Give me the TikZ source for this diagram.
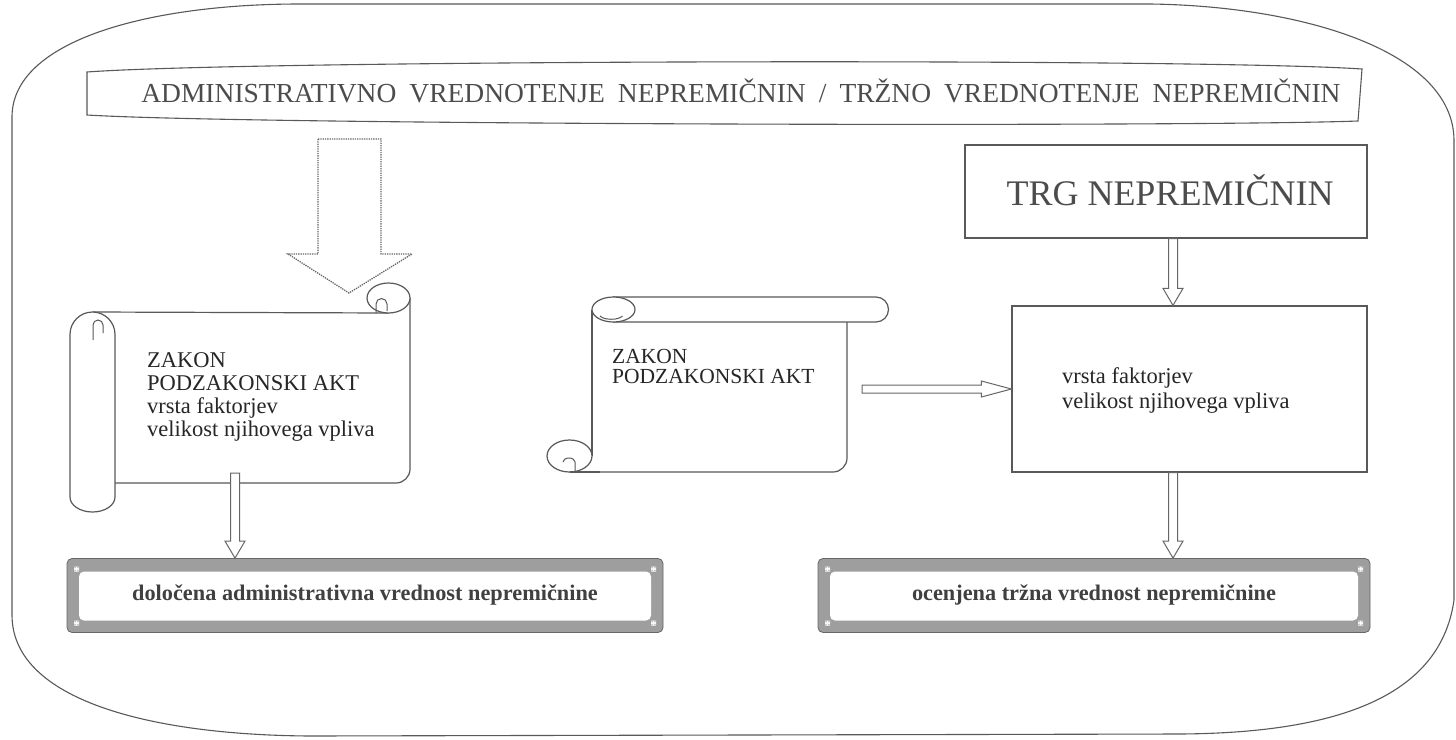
\documentclass[tikz,border=0pt]{standalone}
\usepackage{fontspec}
\setmainfont{Liberation Serif}
\usetikzlibrary{calc}
\tikzset{
  outline/.style={draw=black!65, line width=1.1pt},
  scrollline/.style={draw=black!65, line width=1.2pt, fill=white},
  sline/.style={draw=black!65, line width=1.2pt},
  ghost/.style={draw=none, inner sep=0pt, outer sep=0pt},
  plainbox/.style={draw=black!65, line width=1.2pt, fill=white, inner sep=0pt},
  framebox/.style={draw=black!60, line width=0.8pt, fill=black!38, rounded corners=5pt, inner sep=0pt,
    minimum height=74pt,
    path picture={
      \fill[white] ([shift={(12pt,-13pt)}]path picture bounding box.north west) rectangle ([shift={(-12pt,12pt)}]path picture bounding box.south east);
      \fill[white] ([shift={(7pt,-8pt)}]path picture bounding box.north west) rectangle +(5pt,-5pt);
      \fill[white] ([shift={(-7pt,-8pt)}]path picture bounding box.north east) rectangle +(-5pt,-5pt);
      \fill[white] ([shift={(7pt,7pt)}]path picture bounding box.south west) rectangle +(5pt,5pt);
      \fill[white] ([shift={(-7pt,7pt)}]path picture bounding box.south east) rectangle +(-5pt,5pt);
    }},
  dblarrow/.style={draw=black!60, line width=1pt, fill=white, line join=miter},
  hollowbig/.style={draw=black!60, line width=1.3pt, densely dotted, fill=white},
  bodytext/.style={inner sep=0pt, align=left, text=black!85},
  hatchtext/.style={inner sep=0pt, text=black!70},
  resulttext/.style={font=\bfseries\fontsize{22.3}{24}\selectfont, text=black!75},
}
\newcommand{\downarr}[2]{\draw[dblarrow] let \p1=(#1), \p2=(#2) in
  (\x1-4.5pt,\y1) -- (\x1-4.5pt,\y2+17pt) -- (\x1-10pt,\y2+17pt) -- (\x1,\y2) --
  (\x1+10pt,\y2+17pt) -- (\x1+4.5pt,\y2+17pt) -- (\x1+4.5pt,\y1) -- cycle;}
\newcommand{\rightarr}[2]{\draw[dblarrow] let \p1=(#1), \p2=(#2) in
  (\x1,\y2+4pt) -- (\x2-30pt,\y2+4pt) -- (\x2-30pt,\y2+8pt) -- (\x2,\y2) --
  (\x2-30pt,\y2-8pt) -- (\x2-30pt,\y2-4pt) -- (\x1,\y2-4pt) -- cycle;}
\begin{document}
\begin{tikzpicture}[x=1pt,y=-1pt]
\useasboundingbox[fill=white] (0,0) rectangle (1456,739);

% outer frame
\draw[outline] (12,117) .. controls (12,40) and (150,4) .. (300,4)
  -- (1150,4) .. controls (1300,6) and (1453,50) .. (1454,140)
  -- (1454,600) .. controls (1440,700) and (1330,733) .. (1180,734)
  -- (310,736) .. controls (150,735) and (12,700) .. (12,615) -- cycle;

% banner
\draw[outline] (87,72) .. controls (250,60) and (1200,58) .. (1362,69)
  -- (1358,121) .. controls (1200,127) and (250,125) .. (87,115) -- cycle;
\node[hatchtext, anchor=base, font=\fontsize{27.5}{30}\selectfont] (banner) at (741,102)
  {ADMINISTRATIVNO\hspace{13pt}VREDNOTENJE\hspace{13pt}NEPREMIČNIN\hspace{13pt}/\hspace{13pt}TRŽNO\hspace{13pt}VREDNOTENJE\hspace{13pt}NEPREMIČNIN};

% big hollow arrow
\draw[hollowbig] (318,139) -- (381,139) -- (381,254) -- (412,254) -- (349,293)
  -- (288,254) -- (318,254) -- cycle;

% left scroll
\node[ghost, minimum width=295pt, minimum height=171pt] (lscroll) at (262.5,397.5) {};
\fill[white] (115,312) rectangle (410,483);
\draw[sline] (115,483) -- (396,483) arc[start angle=-90,end angle=0,radius=14pt] -- (410,298);
\draw[sline] (92.5,312) -- (388.5,313);
\draw[scrollline] (388.5,298) ellipse [x radius=21.5pt, y radius=15pt];
\draw[draw=black!65, line width=1pt] (376,313) -- (376,304) arc[start angle=180,end angle=0,radius=5.5pt] -- (387,311);
\draw[scrollline] (70,497) -- (70,334.5) arc[start angle=180,end angle=0,radius=22.5pt]
  -- (115,497) arc[start angle=0,end angle=-180,x radius=22.5pt,y radius=15pt] -- cycle;
\draw[draw=black!65, line width=1pt] (93,340) -- (93,325) arc[start angle=180,end angle=0,radius=5pt] -- (103,333);
\node[bodytext, anchor=north west, font=\fontsize{22.5}{23}\selectfont] (ltext) at (147,352)
  {ZAKON\\PODZAKONSKI AKT\\vrsta faktorjev\\velikost njihovega vpliva};

% middle scroll
\node[ghost, minimum width=255pt, minimum height=150pt] (mscroll) at (719.5,397) {};
\fill[white] (592,309.5) rectangle (847,472);
\draw[sline] (592,309.5) -- (592,456);
\draw[sline] (847,322) -- (847,458) arc[start angle=0,end angle=-90,radius=14pt] -- (569.5,472);
\draw[scrollline] (613.5,297) -- (876,297) arc[start angle=90,end angle=-90,radius=12.5pt] -- (613.5,322) -- cycle;
\draw[scrollline] (613.5,309.5) ellipse [x radius=21.5pt, y radius=12.5pt];
\draw[draw=black!65, line width=1pt] (600,316) arc[start angle=200,end angle=340,x radius=12pt,y radius=5pt];
\draw[scrollline] (569.5,456) ellipse [x radius=22.5pt, y radius=16pt];
\draw[draw=black!65, line width=1pt] (575,472) -- (575,462) arc[start angle=0,end angle=180,x radius=6pt,y radius=4pt];
\draw[sline] (569.5,472) -- (600,472);
\node[bodytext, anchor=north west, font=\fontsize{21.5}{20}\selectfont] (mtext) at (612,349)
  {ZAKON\\PODZAKONSKI AKT};

% right side boxes
\node[plainbox, minimum width=402pt, minimum height=93pt] (trg) at (1166,191.5) {};
\node[hatchtext, anchor=base, font=\fontsize{36}{40}\selectfont] (trgtext) at (1170,205) {TRG NEPREMIČNIN};
\node[plainbox, minimum width=355pt, minimum height=166pt] (rbox) at (1189.5,389) {};
\node[bodytext, anchor=north west, font=\fontsize{22.5}{25}\selectfont] (rtext) at (1062,367.5)
  {vrsta faktorjev\\velikost njihovega vpliva};

% bottom result boxes
\node[framebox, resulttext, minimum width=596pt] (lbox) at (365,595.5)
  {določena administrativna vrednost nepremičnine};
\node[framebox, resulttext, minimum width=552pt] (rrbox) at (1094,595.5)
  {ocenjena tržna vrednost nepremičnine};

% connectors
\downarr{[xshift=-27.5pt,yshift=10pt]lscroll.south}{lbox.north}
\rightarr{[xshift=15pt]mscroll.east}{rbox.west}
\downarr{[xshift=7pt]trg.south}{rbox.north}
\downarr{[xshift=-16.5pt]rbox.south}{rrbox.north}
\end{tikzpicture}
\end{document}
